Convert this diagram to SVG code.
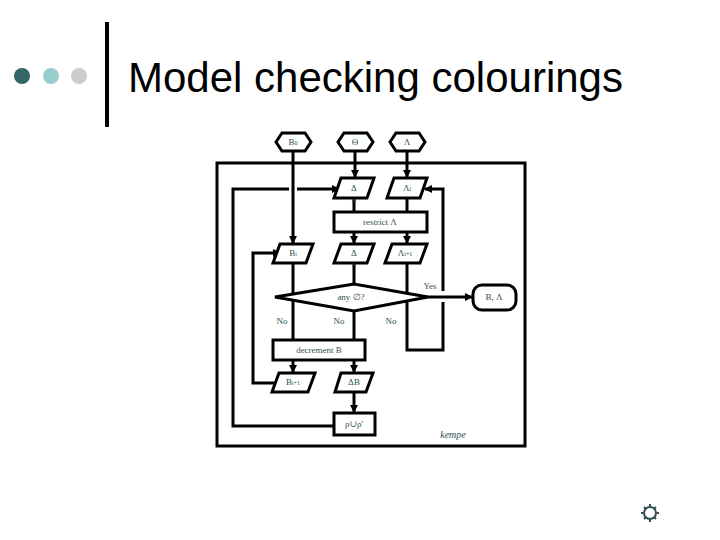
<svg xmlns="http://www.w3.org/2000/svg" width="720" height="540" viewBox="0 0 720 540">
<defs>
<marker id="ah" markerWidth="8" markerHeight="8" refX="7" refY="4" orient="auto" markerUnits="userSpaceOnUse">
<path d="M0,0 L8,4 L0,8 Z" fill="#000"/>
</marker>
<style>
.sh{fill:#fff;stroke:#000;stroke-width:3;stroke-linejoin:miter}
.ln{fill:none;stroke:#000;stroke-width:3}
.ar{fill:none;stroke:#000;stroke-width:3;marker-end:url(#ah)}
.t{font-family:"Liberation Serif","DejaVu Serif",serif;font-size:9px;fill:#2f4f4f;text-anchor:middle}
.s{font-family:"Liberation Serif","DejaVu Serif",serif;font-size:6px;fill:#2f4f4f;text-anchor:middle}
</style>
</defs>
<rect width="720" height="540" fill="#fff"/>
<g id="header">
<circle cx="22" cy="76" r="8" fill="#336666"/>
<circle cx="51" cy="76" r="8" fill="#99cccc"/>
<circle cx="79" cy="76" r="8" fill="#cccccc"/>
<rect x="105" y="22" width="4" height="105" fill="#000"/>
<text x="128" y="92" font-family="Liberation Sans, Arial, sans-serif" font-size="42" fill="#000">Model checking colourings</text>
</g>
<g id="frame"><rect x="217" y="163" width="308" height="283" fill="none" stroke="#000" stroke-width="3"/></g>
<g id="connectors">
<path class="ar" d="M293,151 V243"/>
<path class="ar" d="M355,151 V177"/>
<path class="ar" d="M407,151 V177"/>
<path class="ln" d="M354,198 V212"/>
<path class="ln" d="M407,198 V212"/>
<path class="ar" d="M354,232 V243"/>
<path class="ar" d="M407,232 V243"/>
<path class="ln" d="M293,263 V340"/>
<path class="ln" d="M354,263 V284"/>
<path class="ln" d="M354,311 V340"/>
<path class="ln" d="M407,263 V350 H443 V302"/>
<path class="ar" d="M443,291 V189 H425"/>
<path class="ar" d="M293,360 V372"/>
<path class="ar" d="M354,360 V372"/>
<path class="ar" d="M354,392 V412"/>
<path class="ar" d="M277,383 H253 V253 H280"/>
<path class="ln" d="M334,426 H233 V189 H289"/>
<path class="ar" d="M297,189 H339"/>
<path class="ar" d="M428,297 H472"/>
</g>
<g id="n-b0"><polygon class="sh" points="276,142 282,133 305,133 311,142 305,151 282,151"/><text class="t" x="293" y="145">B<tspan font-size="6">0</tspan></text></g>
<g id="n-theta"><polygon class="sh" points="338,142 344,133 367,133 373,142 367,151 344,151"/><text class="t" x="355" y="145">Θ</text></g>
<g id="n-lambda"><polygon class="sh" points="390,142 396,133 419,133 425,142 419,151 396,151"/><text class="t" x="407" y="145">Λ</text></g>
<g id="n-dtheta"><polygon class="sh" points="341,178 374,178 367,198 334,198"/><text class="t" x="354" y="191">Δ</text><text class="s" x="354" y="203">Θ</text></g>
<g id="n-lambdai"><polygon class="sh" points="394,178 427,178 420,198 387,198"/><text class="t" x="407" y="191">Λ<tspan font-size="6">i</tspan></text></g>
<g id="n-restrict"><rect class="sh" x="334" y="212" width="93" height="20"/><text class="t" x="380" y="225">restrict Λ</text></g>
<g id="n-bi"><polygon class="sh" points="280,244 313,244 306,263 273,263"/><text class="t" x="293" y="256">B<tspan font-size="6">i</tspan></text></g>
<g id="n-d2"><polygon class="sh" points="341,244 374,244 367,263 334,263"/><text class="t" x="354" y="256">Δ</text><text class="s" x="354" y="267">Λ</text></g>
<g id="n-lambdai1"><polygon class="sh" points="392,244 427,244 420,263 385,263"/><text class="t" x="405" y="256">Λ<tspan font-size="6">i+1</tspan></text></g>
<g id="n-any"><polygon class="sh" points="275,297 354,284 428,297 354,311"/><text class="t" x="351" y="300">any ∅?</text></g>
<g id="n-yes"><text class="t" x="430" y="289">Yes</text></g>
<g id="n-no"><text class="t" x="282" y="324">No</text><text class="t" x="339" y="324">No</text><text class="t" x="391" y="324">No</text></g>
<g id="n-bl"><rect class="sh" x="473" y="285" width="43" height="25" rx="9"/><text class="t" x="494" y="300">B, Λ</text></g>
<g id="n-dec"><rect class="sh" x="273" y="340" width="92" height="20"/><text class="t" x="319" y="353">decrement B</text></g>
<g id="n-bi1"><polygon class="sh" points="279,373 315,373 308,392 272,392"/><text class="t" x="293" y="385">B<tspan font-size="6">i+1</tspan></text></g>
<g id="n-db"><polygon class="sh" points="341,373 373,373 366,392 335,392"/><text class="t" x="354" y="385">ΔB</text></g>
<g id="n-rho"><rect class="sh" x="334" y="413" width="41" height="22"/><text class="t" x="354" y="427">ρ∪ρ'</text></g>
<g id="n-kempe"><text x="453" y="438" font-family="Liberation Serif, serif" font-style="italic" font-size="10" fill="#2f4f4f" text-anchor="middle">kempe</text></g>
<g id="icon" stroke="#2f4f4f" fill="none" stroke-width="2">
<circle cx="650" cy="513" r="6"/>
<path d="M650,504 V506 M650,520 V522 M641,513 H643 M657,513 H659 M644,507 L645.5,508.5 M654.5,517.5 L656,519 M656,507 L654.5,508.5 M645.5,517.5 L644,519"/>
</g>
</svg>
